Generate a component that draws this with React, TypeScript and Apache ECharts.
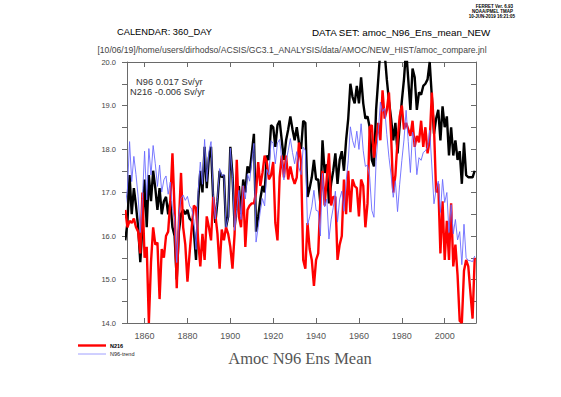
import React, { useEffect, useRef } from "react";
import * as echarts from "echarts";

const startYear = 1851;
const n96: number[] = [
  15.9, 16.3, 17.4, 16.5, 17.1, 16.7, 16.2, 15.4, 16.2, 17.3,
  16.2, 17.4, 16.8, 17.5, 17.1, 16.6, 17.1, 16.5, 16.8, 16.9,
  16.5, 16.8, 16.2, 16.0, 15.0, 16.1, 16.5, 16.6, 16.5, 16.6,
  16.4, 16.35, 16.1, 15.45, 16.8, 17.5, 17.0, 18.05, 17.1, 17.8,
  18.05, 16.85, 16.3, 16.8, 17.5, 17.35, 17.4, 16.2, 16.45, 18.05,
  17.4, 16.2, 16.7, 17.15, 16.5, 17.3, 17.0, 17.6, 17.45, 17.9,
  18.35, 16.1, 16.45, 16.85, 17.15, 17.0, 17.85, 17.75, 18.55, 18.5,
  18.05, 18.55, 18.65, 18.2, 17.75, 18.2, 18.45, 18.75, 18.45, 18.2,
  18.5, 18.15, 18.0, 18.65, 18.6, 16.9, 17.1, 17.35, 17.75, 17.3,
  17.3, 16.75, 18.2, 17.45, 17.65, 16.75, 17.2, 17.5, 17.9, 17.2,
  17.75, 17.95, 17.5, 18.2, 18.7, 19.5, 19.2, 19.05, 19.45, 19.05,
  19.65, 19.05, 18.7, 18.75, 18.5, 17.75, 17.6, 18.9, 19.6, 20.3,
  20.1, 20.2, 19.6, 19.1, 18.7, 18.2, 18.6, 17.9, 18.55, 19.1,
  19.6, 20.3, 19.6, 18.9, 19.85, 19.65, 18.9, 19.3, 19.25, 19.45,
  19.5, 19.6, 20.0, 19.2, 18.35, 18.7, 18.9, 18.2, 18.98, 18.5,
  18.75, 17.85, 18.5, 17.85, 18.2, 17.75, 17.95, 17.2, 18.15, 17.4,
  17.35, 17.35, 17.35, 17.5,
];
const n216: number[] = [
  16.6, 16.2, 16.35, 16.3, 16.4, 16.2, 16.1, 15.6, 17.0, 15.5,
  15.75, 14.0, 15.4, 16.2, 15.8, 15.85, 14.55, 15.7, 15.5, 16.0,
  16.1, 16.8, 17.9, 16.6, 14.8, 16.3, 17.45, 16.2, 15.8, 14.95,
  15.6, 16.2, 16.7, 16.65, 15.9, 15.3, 16.05, 15.45, 16.45, 16.2,
  15.9, 16.9, 16.5, 16.05, 15.25, 16.15, 15.9, 16.2, 16.05, 15.75,
  15.25, 16.05, 17.75, 16.45, 16.2, 17.15, 15.75, 16.6, 16.7, 16.75,
  16.75, 17.0, 17.7, 17.15, 17.45, 17.85, 17.7, 17.3, 17.4, 17.7,
  16.3, 15.9, 17.35, 17.85, 17.35, 17.85, 17.3, 17.6, 17.35, 17.2,
  17.35, 18.15, 17.7, 15.45, 15.25, 16.3, 15.7, 15.45, 14.85, 15.45,
  15.6, 16.85, 17.5, 16.7, 17.35, 17.9, 16.7, 16.9, 16.9, 15.45,
  15.8, 16.0, 17.3, 16.5, 17.5, 16.55, 17.3, 17.15, 17.1, 16.45,
  17.3, 17.15, 16.2, 16.75, 18.5, 18.55, 17.8, 18.2, 18.6, 18.2,
  19.35, 18.7, 18.9, 19.3, 18.3, 17.0, 17.4, 18.2, 18.75, 19.0,
  18.45, 18.6, 18.45, 18.3, 18.65, 18.05, 18.3, 18.15, 18.65, 18.05,
  18.5, 17.9, 18.2, 19.3, 18.5, 17.0, 17.2, 15.6, 16.8, 15.45,
  16.35, 15.45, 16.75, 15.3, 15.8, 15.1, 14.05, 14.0, 15.2, 15.45,
  15.3, 14.7, 14.1, 15.5,
];
const n96Trend: number[] = [
  16.70, 17.08, 18.17, 17.25, 17.83, 17.41, 16.90, 16.08, 16.86, 17.95,
  16.83, 18.01, 17.40, 18.08, 17.66, 17.14, 17.63, 17.01, 17.29, 17.38,
  16.96, 17.24, 16.63, 16.41, 15.39, 16.47, 16.86, 16.94, 16.82, 16.91,
  16.69, 16.62, 16.36, 15.69, 17.02, 17.70, 17.19, 18.22, 17.25, 17.94,
  18.17, 16.95, 16.39, 16.87, 17.55, 17.38, 17.42, 16.20, 16.43, 18.02,
  17.35, 16.13, 16.61, 17.05, 16.38, 17.16, 16.85, 17.43, 17.26, 17.70,
  18.13, 15.86, 16.20, 16.58, 16.86, 16.69, 17.53, 17.41, 18.19, 18.13,
  17.66, 18.14, 18.22, 17.76, 17.29, 17.72, 17.96, 18.24, 17.92, 17.66,
  17.94, 17.57, 17.41, 18.04, 17.97, 16.25, 16.44, 16.67, 17.05, 16.59,
  16.57, 16.00, 17.44, 16.67, 16.85, 15.93, 16.37, 16.65, 17.03, 16.32,
  16.85, 17.03, 16.57, 17.25, 17.73, 18.51, 18.20, 18.03, 18.41, 17.99,
  18.58, 17.96, 17.60, 17.63, 17.36, 16.59, 16.43, 17.71, 18.39, 19.08,
  18.86, 18.94, 18.33, 17.81, 17.40, 16.89, 17.27, 16.56, 17.19, 17.73,
  18.21, 18.89, 18.17, 17.46, 18.39, 18.18, 17.41, 17.80, 17.74, 17.92,
  17.96, 18.04, 18.43, 17.61, 16.74, 17.07, 17.26, 16.54, 17.30, 16.77,
  17.00, 16.08, 16.72, 16.05, 16.38, 15.91, 16.10, 15.34, 16.27, 15.50,
  15.44, 15.43, 15.41, 15.54,
];
const years: number[] = n96.map((_, i) => startYear + i);
const xTickYears: number[] = [1860, 1880, 1900, 1920, 1940, 1960, 1980, 2000];
const yLabelValues: number[] = [14, 15, 16, 17, 18, 19, 20];

const AXIS = "#6a6a6a";
const SANS = "'Liberation Sans', Arial, sans-serif";

export default function App() {
  const ref = useRef<HTMLDivElement>(null);
  useEffect(() => {
    if (!ref.current) return;
    const chart = echarts.init(ref.current, undefined, { renderer: "svg" });
    const pairs = (arr: number[]) => arr.map((v, i) => [years[i], v]);
    chart.setOption({
      animation: false,
      backgroundColor: "#ffffff",
      grid: { left: 127, top: 62, width: 349, height: 261, containLabel: false },
      xAxis: [
        {
          type: "value", position: "bottom", min: 1851.8, max: 2014.6,
          axisLine: { show: true, lineStyle: { color: AXIS, width: 1 } },
          axisTick: { show: true, inside: true, length: 5, customValues: xTickYears, lineStyle: { color: AXIS } },
          axisLabel: { show: true, customValues: xTickYears, formatter: (v: number) => String(Math.round(v)), fontSize: 9, color: "#555", fontFamily: SANS, margin: 8 },
          splitLine: { show: false },
        },
        {
          type: "value", position: "top", min: 1851.8, max: 2014.6,
          axisLine: { show: true, lineStyle: { color: AXIS, width: 1 } },
          axisTick: { show: true, inside: true, length: 5, customValues: xTickYears, lineStyle: { color: AXIS } },
          axisLabel: { show: false },
          splitLine: { show: false },
        },
      ],
      yAxis: [
        {
          type: "value", position: "left", min: 14, max: 20, interval: 0.5,
          axisLine: { show: true, lineStyle: { color: AXIS, width: 1 } },
          axisTick: { show: true, inside: false, length: 5, lineStyle: { color: AXIS } },
          axisLabel: {
            show: true, fontSize: 7.5, color: "#444", fontFamily: SANS, margin: 11,
            formatter: (v: number) => (yLabelValues.some((t) => Math.abs(t - v) < 1e-6) ? v.toFixed(1) : ""),
          },
          splitLine: { show: false },
        },
        {
          type: "value", position: "right", min: 14, max: 20, interval: 0.5,
          axisLine: { show: true, lineStyle: { color: AXIS, width: 1 } },
          axisTick: { show: true, inside: true, length: 5, lineStyle: { color: AXIS } },
          axisLabel: { show: false },
          splitLine: { show: false },
        },
      ],
      series: [
        { name: "N96", type: "line", data: pairs(n96), symbol: "none", clip: true, lineStyle: { color: "#000000", width: 2.4 }, z: 2 },
        { name: "N216", type: "line", data: pairs(n216), symbol: "none", clip: true, lineStyle: { color: "#ff0000", width: 2.4 }, z: 3 },
        { name: "N96-trend", type: "line", data: pairs(n96Trend), symbol: "none", clip: true, lineStyle: { color: "#6a6aff", width: 0.9 }, z: 4 },
      ],
      graphic: [
        { type: "text", x: 513, y: 6, style: { text: "FERRET Ver. 6.93", font: `bold 4.5px ${SANS}`, fill: "#000", textAlign: "right", textVerticalAlign: "middle" } },
        { type: "text", x: 513, y: 11, style: { text: "NOAA/PMEL TMAP", font: `bold 4.5px ${SANS}`, fill: "#000", textAlign: "right", textVerticalAlign: "middle" } },
        { type: "text", x: 515, y: 16, style: { text: "10-JUN-2019 16:21:05", font: `bold 4.5px ${SANS}`, fill: "#000", textAlign: "right", textVerticalAlign: "middle" } },
        { type: "text", x: 117, y: 32, style: { text: "CALENDAR: 360_DAY", font: `9.3px ${SANS}`, fill: "#000", textAlign: "left", textVerticalAlign: "middle" } },
        { type: "text", x: 312, y: 32, style: { text: "DATA SET: amoc_N96_Ens_mean_NEW", font: `9.8px ${SANS}`, fill: "#000", textAlign: "left", textVerticalAlign: "middle" } },
        { type: "text", x: 292, y: 50, style: { text: "[10/06/19]/home/users/dirhodso/ACSIS/GC3.1_ANALYSIS/data/AMOC/NEW_HIST/amoc_compare.jnl", font: `8.6px ${SANS}`, fill: "#444", textAlign: "center", textVerticalAlign: "middle" } },
        { type: "text", x: 136, y: 82, style: { text: "N96 0.017 Sv/yr", font: `9.3px ${SANS}`, fill: "#333", textAlign: "left", textVerticalAlign: "middle" } },
        { type: "text", x: 130, y: 92, style: { text: "N216 -0.006 Sv/yr", font: `9.3px ${SANS}`, fill: "#333", textAlign: "left", textVerticalAlign: "middle" } },
        { type: "text", x: 300, y: 358, style: { text: "Amoc N96 Ens Mean", font: `16.5px 'Liberation Serif', serif`, fill: "#555", textAlign: "center", textVerticalAlign: "middle" } },
        { type: "line", shape: { x1: 78, y1: 345.5, x2: 106, y2: 345.5 }, style: { stroke: "#ff0000", lineWidth: 2.4 } },
        { type: "text", x: 110, y: 345.5, style: { text: "N216", font: `bold 5.5px ${SANS}`, fill: "#000", textAlign: "left", textVerticalAlign: "middle" } },
        { type: "line", shape: { x1: 78, y1: 354, x2: 106, y2: 354 }, style: { stroke: "#a0a0ff", lineWidth: 1 } },
        { type: "text", x: 110, y: 354, style: { text: "N96-trend", font: `5.5px ${SANS}`, fill: "#222", textAlign: "left", textVerticalAlign: "middle" } },
      ],
    });
    return () => chart.dispose();
  }, []);
  return <div ref={ref} style={{ position: "fixed", left: 0, top: 0, width: 561, height: 397, background: "#fff" }} />;
}
